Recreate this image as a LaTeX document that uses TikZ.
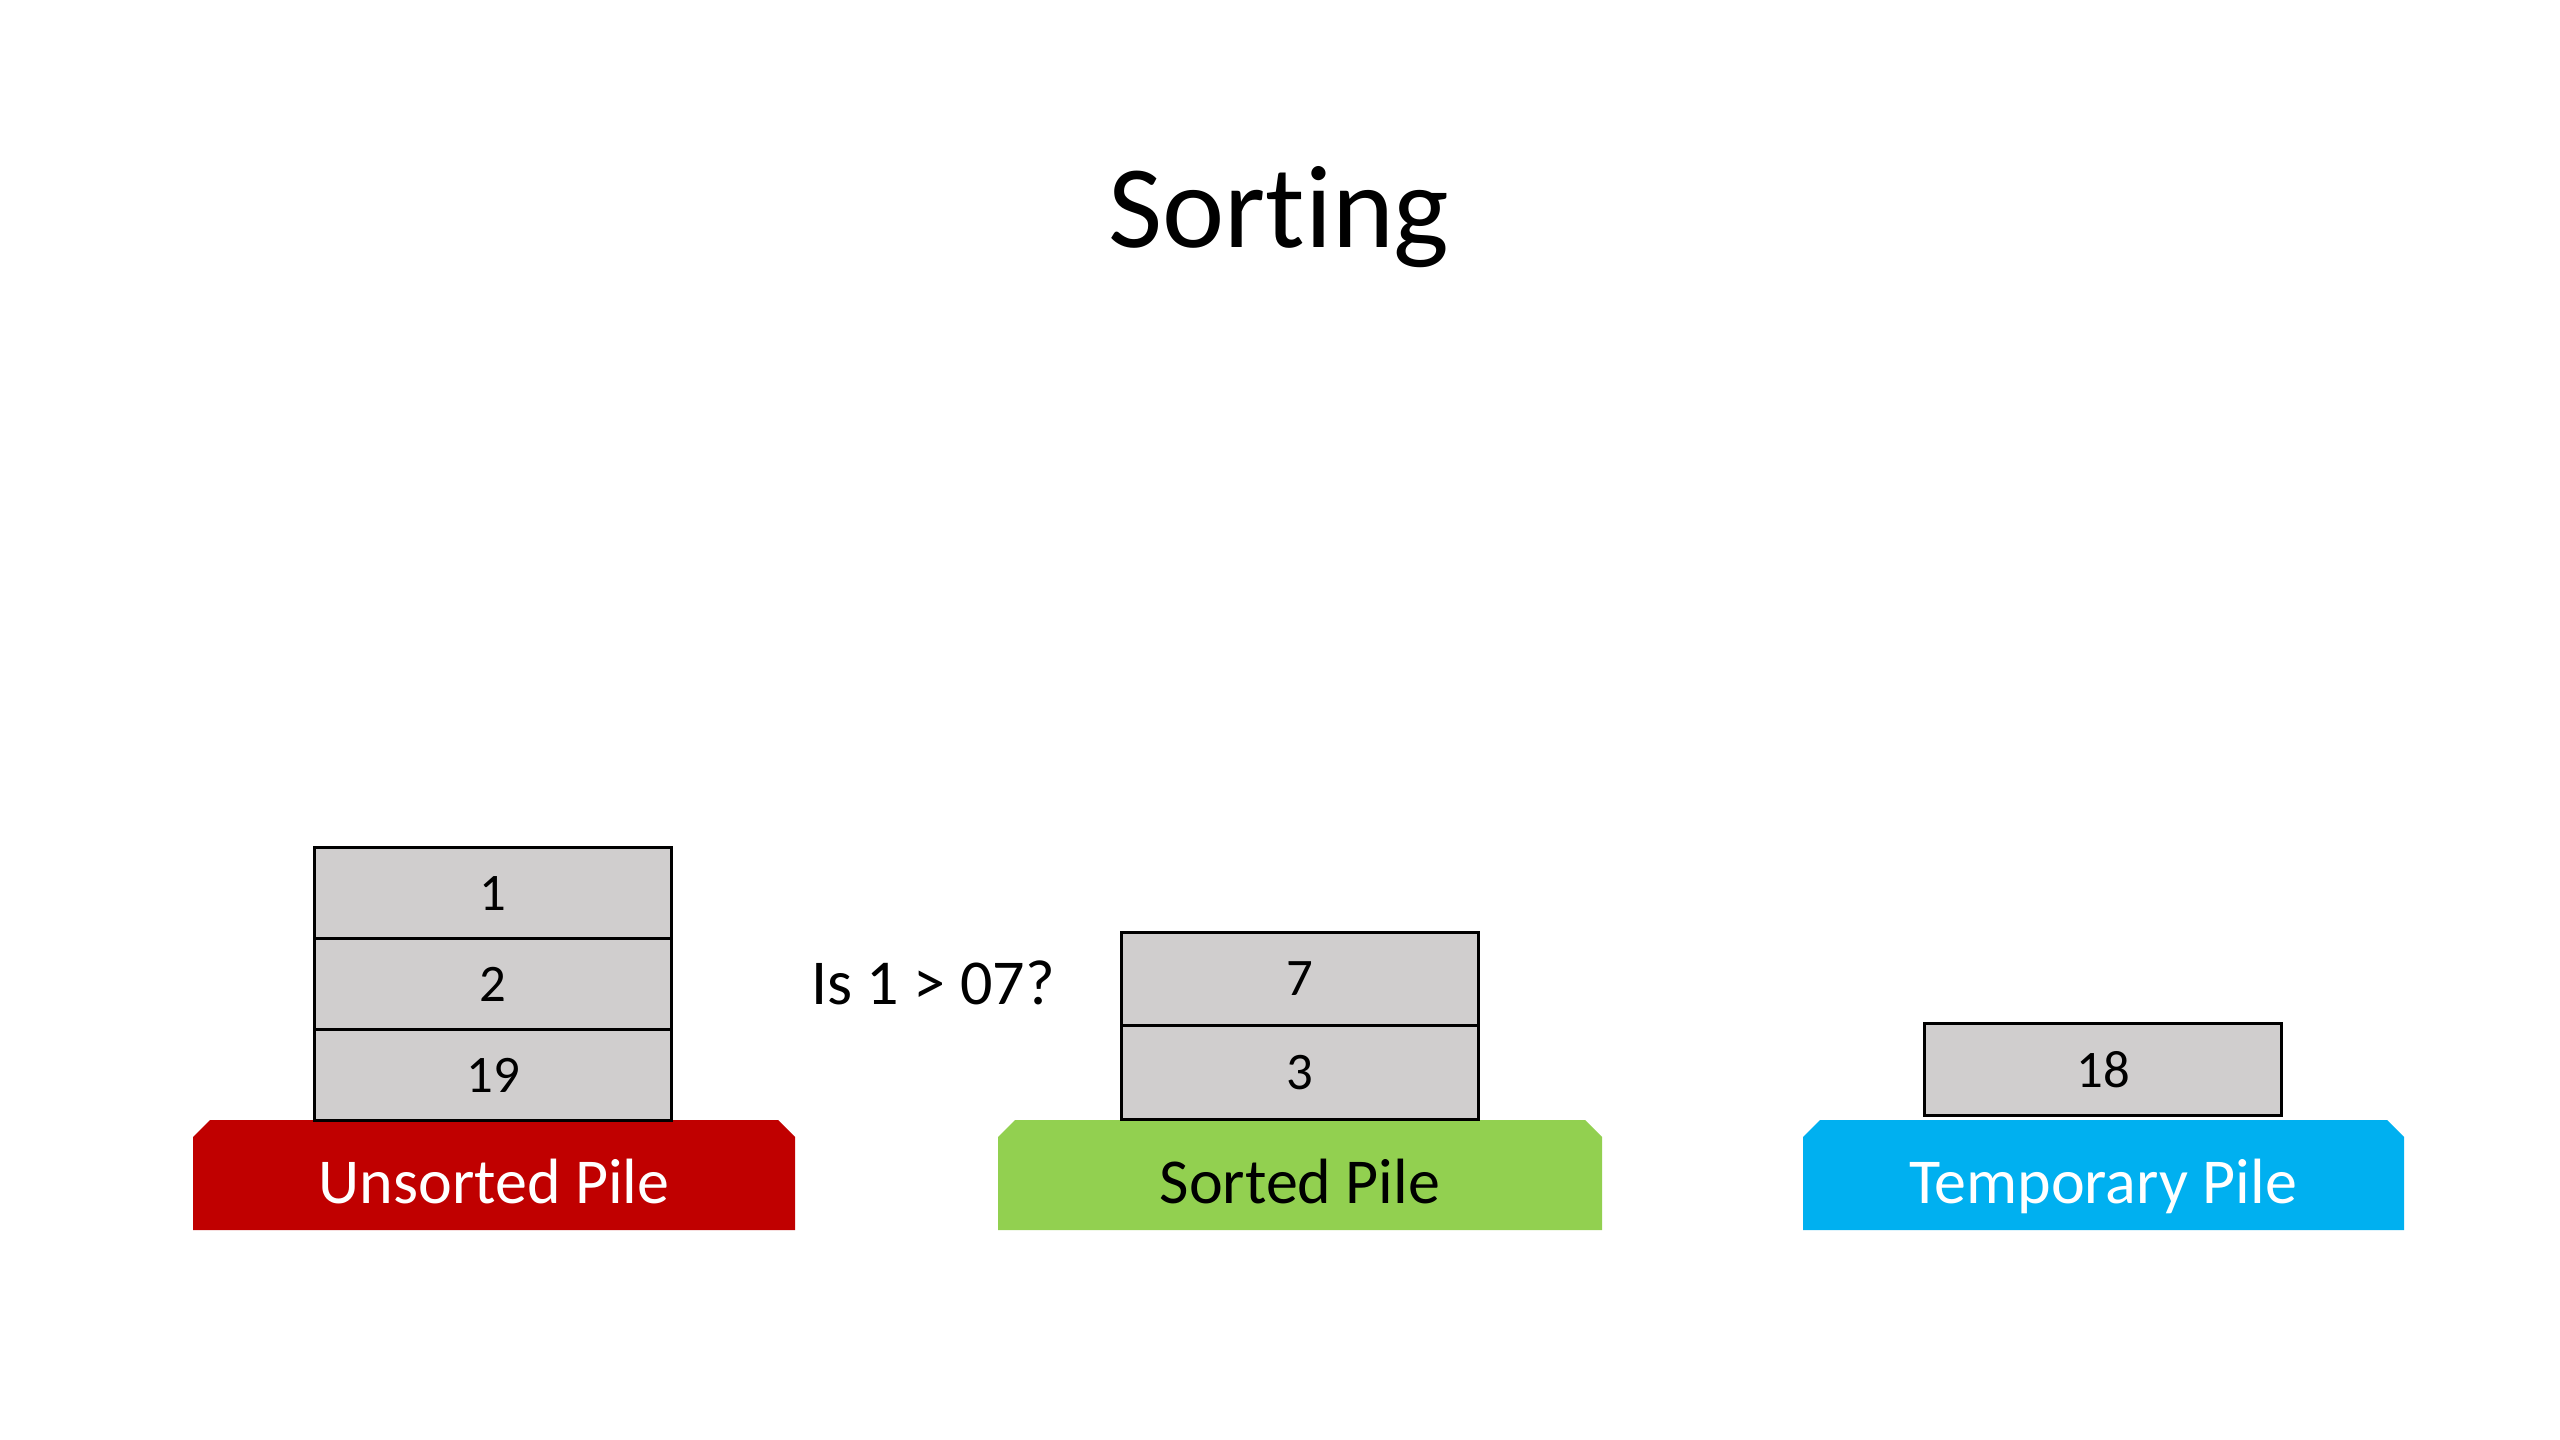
\documentclass[tikz,border=0pt]{standalone}
\usepackage{fontspec}
\setmainfont{Carlito}[Ligatures=NoCommon]
\definecolor{boxgray}{HTML}{D0CECE}
\definecolor{pilered}{HTML}{C00000}
\definecolor{pilegreen}{HTML}{92D050}
\definecolor{pileblue}{HTML}{00B0F0}
\begin{document}
\begin{tikzpicture}[x=0.01cm,y=-0.01cm,
  numbox/.style={draw=black, line width=0.03cm, fill=boxgray, minimum width=3.56cm, inner sep=0pt, font=\fontsize{15}{18}\selectfont},
  pilelabel/.style={font=\fontsize{18.2}{22}\selectfont, inner sep=0pt, anchor=base}]
\useasboundingbox (0,0) rectangle (2560,1440);
\fill[white] (0,0) rectangle (2560,1440);
% title
\node[font=\fontsize{33.5}{40}\selectfont, anchor=base, inner sep=0pt] (title) at (1279,248) {Sorting};
% bases
\fill[pilered] (193,1230) -- (193,1137) -- (210,1120) -- (778,1120) -- (795,1137) -- (795,1230) -- cycle;
\fill[pilegreen] (998,1230) -- (998,1137) -- (1015,1120) -- (1585,1120) -- (1602,1137) -- (1602,1230) -- cycle;
\fill[pileblue] (1803,1230) -- (1803,1137) -- (1820,1120) -- (2387,1120) -- (2404,1137) -- (2404,1230) -- cycle;
\node[pilelabel, text=white] (ulabel) at (494,1203) {Unsorted Pile};
\node[pilelabel, text=black] (slabel) at (1300,1203) {Sorted Pile};
\node[pilelabel, text=white] (tlabel) at (2103,1203) {Temporary Pile};
% unsorted pile
\node[numbox, minimum height=0.91cm] (u1) at (493,893.5) {1};
\node[numbox, minimum height=0.91cm] (u2) at (493,984.5) {2};
\node[numbox, minimum height=0.91cm] (u3) at (493,1075) {19};
% sorted pile
\node[numbox, minimum height=0.93cm] (s1) at (1300,979) {7};
\node[numbox, minimum height=0.93cm] (s2) at (1300,1072.5) {3};
% temporary pile
\node[numbox, minimum height=0.91cm] (t1) at (2103,1069.5) {18};
% question
\node[font=\fontsize{18.2}{22}\selectfont, anchor=base, inner sep=0pt] (question) at (933,1004) {Is 1 > 07?};
\end{tikzpicture}
\end{document}
